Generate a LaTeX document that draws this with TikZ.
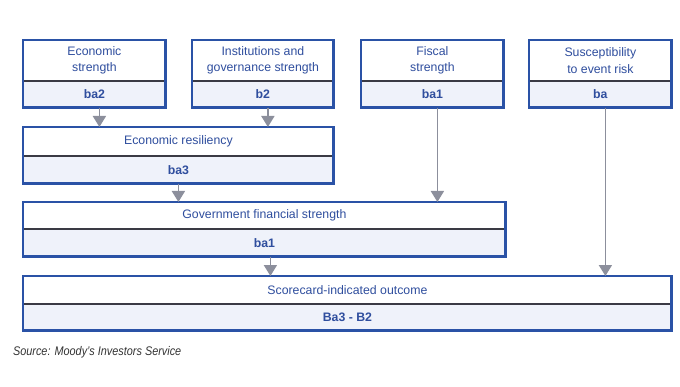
\documentclass[tikz,border=0pt]{standalone}
\usepackage{fontspec}
\setmainfont{Liberation Sans}
\usetikzlibrary{arrows.meta, positioning, calc}
\definecolor{moodysBlue}{HTML}{2A52A6}
\definecolor{moodysText}{HTML}{2F4E9E}
\definecolor{moodysFill}{HTML}{EFF2FA}
\definecolor{moodysArrow}{HTML}{8C8F9C}
\definecolor{splitLine}{HTML}{3A3A44}
\definecolor{sourceGray}{HTML}{333333}

\tikzset{
  topcell/.style={draw=splitLine, line width=0.8pt, fill=white, inner sep=0pt,
    anchor=north west, align=center, text=moodysText,
    font=\fontsize{12.3}{16.5}\selectfont},
  ratecell/.style={draw=splitLine, line width=0.8pt, fill=moodysFill, inner sep=0pt,
    anchor=north, align=center, text=moodysText,
    font=\fontsize{12.3}{15}\selectfont\bfseries},
  frame/.style={draw=moodysBlue, line width=2.8pt},
  flow/.style={draw=moodysArrow, line width=1.8pt,
    -{Triangle[width=13pt,length=11pt]}}
}

\begin{document}
\begin{tikzpicture}[x=1pt, y=1pt]
        \useasboundingbox (0,0) rectangle (680,386);
        % factores
        \node[topcell, minimum width=142pt, minimum height=40pt] (econ) at (23,346)
          {Economic\\strength};
        \node[ratecell, minimum width=142pt, minimum height=26pt, below=0pt of econ.south, anchor=north] (econR) {ba2};
        \node[topcell, minimum width=141pt, minimum height=40pt] (inst) at (192,346)
          {Institutions and\\governance strength};
        \node[ratecell, minimum width=141pt, minimum height=26pt, below=0pt of inst.south, anchor=north] (instR) {b2};
        \node[topcell, minimum width=142pt, minimum height=40pt] (fisc) at (361,346)
          {Fiscal\\strength};
        \node[ratecell, minimum width=142pt, minimum height=26pt, below=0pt of fisc.south, anchor=north] (fiscR) {ba1};
        \node[topcell, minimum width=142pt, minimum height=40pt] (risk) at (529,346)
          {Susceptibility\\to event risk};
        \node[ratecell, minimum width=142pt, minimum height=26pt, below=0pt of risk.south, anchor=north] (riskR) {ba};
        % agregados
        \node[topcell, minimum width=310pt, minimum height=28pt] (resil) at (23,259)
          {Economic resiliency};
        \node[ratecell, minimum width=310pt, minimum height=27pt, below=0pt of resil.south, anchor=north] (resilR) {ba3};
        \node[topcell, minimum width=482pt, minimum height=26pt] (gov) at (23,184)
          {Government financial strength};
        \node[ratecell, minimum width=482pt, minimum height=27pt, below=0pt of gov.south, anchor=north] (govR) {ba1};
        \node[topcell, minimum width=648pt, minimum height=27pt] (score) at (23,110)
          {Scorecard-indicated outcome};
        \node[ratecell, minimum width=648pt, minimum height=26pt, below=0pt of score.south, anchor=north] (scoreR) {Ba3 - B2};
        % marcos
        \foreach \t/\b in {econ/econR, inst/instR, fisc/fiscR, risk/riskR,
            resil/resilR, gov/govR, score/scoreR}
          \draw[frame] (\t.north west) rectangle (\b.south east);
        % flechas
        \draw[flow] ([xshift=5pt]econR.south) -- ([xshift=5pt]econR.south |- resil.north);
        \draw[flow] ([xshift=5pt]instR.south) -- ([xshift=5pt]instR.south |- resil.north);
        \draw[flow] (resilR.south) -- (resilR.south |- gov.north);
        \draw[flow] ([xshift=5pt]fiscR.south) -- ([xshift=5pt]fiscR.south |- gov.north);
        \draw[flow] ([xshift=6pt]govR.south) -- ([xshift=6pt]govR.south |- score.north);
        \draw[flow] ([xshift=5pt]riskR.south) -- ([xshift=5pt]riskR.south |- score.north);
        % fuente
        \node[anchor=west, font=\fontsize{12.5}{14}\selectfont\itshape, text=sourceGray,
          xscale=0.87] (src) at (10,34) {Source: Moody's Investors Service};
      \end{tikzpicture}
\end{document}
